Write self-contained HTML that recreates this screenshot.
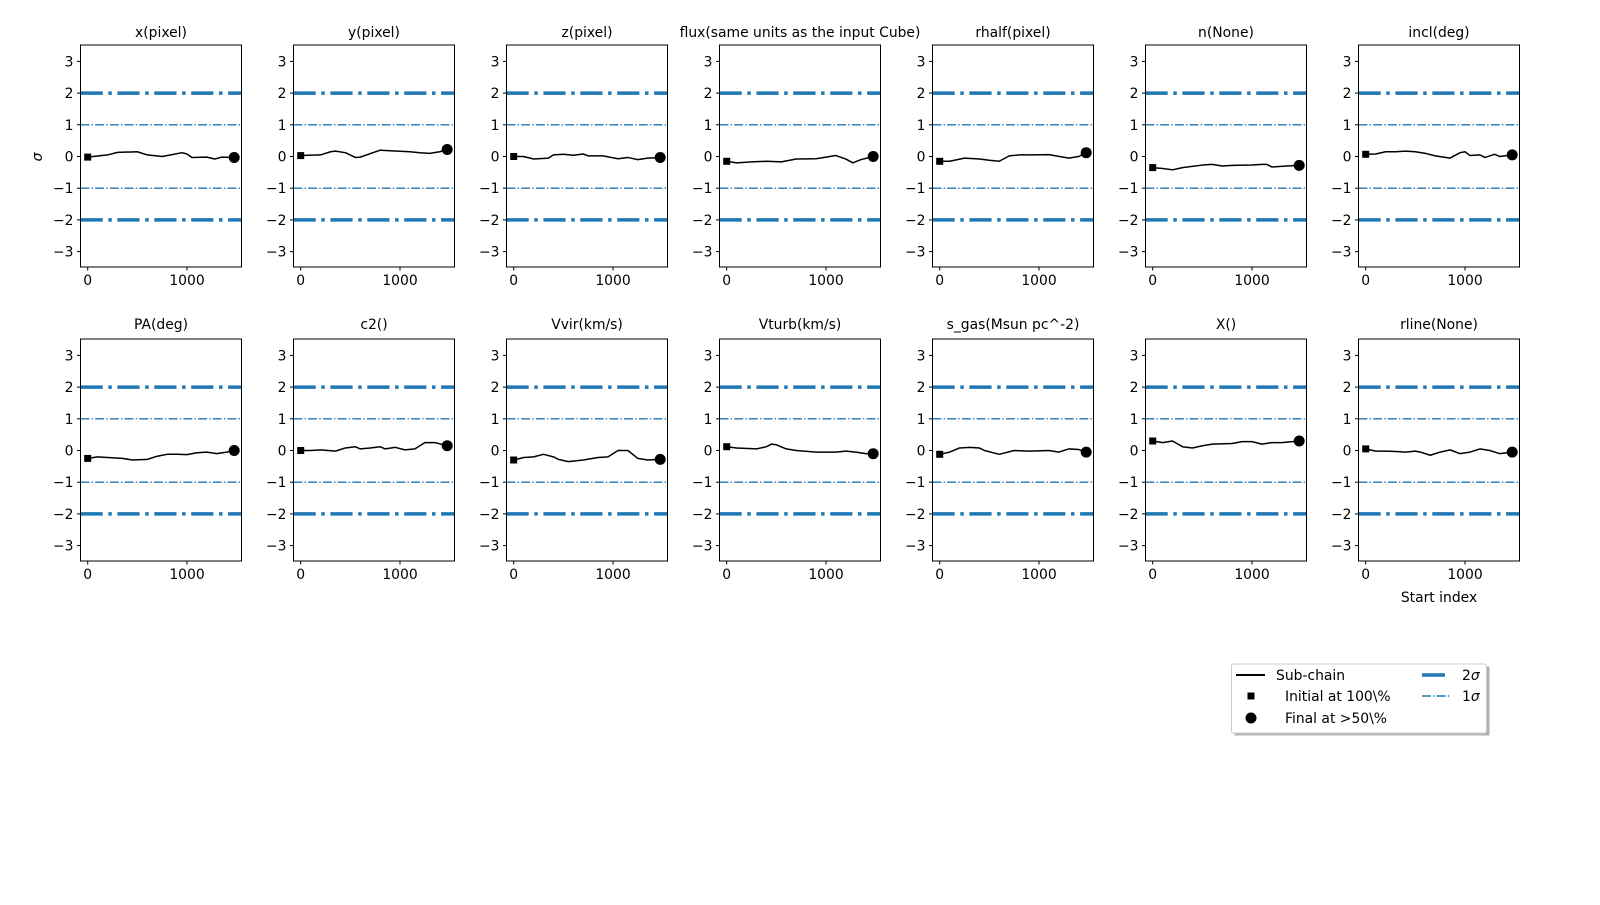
<!DOCTYPE html>
<html><head><meta charset="utf-8"><style>
body{margin:0;background:#fff}
svg{font-family:"DejaVu Sans","Liberation Sans",sans-serif;font-size:13.9px}
.t2{stroke:#1f77b4;stroke-width:3.5;stroke-dasharray:22.2 5.6 3.5 5.6}
.t1{stroke:#1f77b4;stroke-width:1.4;stroke-dasharray:8.9 2.2 1.4 2.2}
.d{fill:none;stroke:#000;stroke-width:1.5;vector-effect:non-scaling-stroke;stroke-linejoin:round}
.f{fill:none;stroke:#000;stroke-width:1}
.tk{stroke:#000;stroke-width:1}
.yl{text-anchor:end}
.xl{text-anchor:middle}
</style></head><body>
<svg width="1600" height="900" viewBox="0 0 1600 900">
<defs>
<g id="base">
<line class="t2" x1="0" x2="161" y1="48.1" y2="48.1"/>
<line class="t2" x1="0" x2="161" y1="174.9" y2="174.9"/>
<line class="t1" x1="0" x2="161" y1="79.8" y2="79.8"/>
<line class="t1" x1="0" x2="161" y1="143.2" y2="143.2"/>
<rect class="f" x="0" y="0" width="161" height="222"/>
<g class="tk">
<line x1="-3.5" x2="0" y1="16.4" y2="16.4"/><line x1="-3.5" x2="0" y1="48.1" y2="48.1"/><line x1="-3.5" x2="0" y1="79.8" y2="79.8"/><line x1="-3.5" x2="0" y1="111.5" y2="111.5"/><line x1="-3.5" x2="0" y1="143.2" y2="143.2"/><line x1="-3.5" x2="0" y1="174.9" y2="174.9"/><line x1="-3.5" x2="0" y1="206.6" y2="206.6"/>
<line x1="7.2" x2="7.2" y1="222" y2="225.5"/><line x1="106.5" x2="106.5" y1="222" y2="225.5"/>
</g>
<g class="yl">
<text x="-7" y="21.4">3</text><text x="-7" y="53.1">2</text><text x="-7" y="84.8">1</text><text x="-7" y="116.5">0</text><text x="-7" y="148.2">−1</text><text x="-7" y="179.9">−2</text><text x="-7" y="211.6">−3</text>
</g>
<g class="xl"><text x="7.2" y="240">0</text><text x="106.5" y="240">1000</text></g>
</g>
</defs>

<!-- Row 1 -->
<g transform="translate(80.5,45)"><use href="#base"/><text class="xl" x="80.5" y="-8">x(pixel)</text>
<polyline class="d" transform="translate(7.2,111.5) scale(0.0993,-31.7)" points="0,-0.02 200,0.05 300,0.13 500,0.15 600,0.05 750,0 850,0.06 950,0.12 1000,0.08 1050,-0.03 1200,-0.02 1280,-0.08 1350,-0.02 1475,-0.03"/>
<rect x="3.7" y="108.6" width="7" height="7"/><circle cx="153.7" cy="112.5" r="5.5"/></g>

<g transform="translate(293.5,45)"><use href="#base"/><text class="xl" x="80.5" y="-8">y(pixel)</text>
<polyline class="d" transform="translate(7.2,111.5) scale(0.0993,-31.7)" points="0,0.03 200,0.05 300,0.15 350,0.17 450,0.12 550,-0.03 600,-0.02 800,0.2 900,0.18 1100,0.15 1200,0.12 1300,0.1 1400,0.15 1475,0.22"/>
<rect x="3.7" y="107.1" width="7" height="7"/><circle cx="153.7" cy="104.5" r="5.5"/></g>

<g transform="translate(506.5,45)"><use href="#base"/><text class="xl" x="80.5" y="-8">z(pixel)</text>
<polyline class="d" transform="translate(7.2,111.5) scale(0.0993,-31.7)" points="0,0 100,0 200,-0.08 350,-0.05 400,0.05 500,0.07 600,0.04 700,0.08 750,0.02 900,0.02 1050,-0.07 1150,-0.03 1250,-0.1 1350,-0.05 1475,-0.03"/>
<rect x="3.7" y="108" width="7" height="7"/><circle cx="153.7" cy="112.5" r="5.5"/></g>

<g transform="translate(719.5,45)"><use href="#base"/><text class="xl" x="80.5" y="-8">flux(same units as the input Cube)</text>
<polyline class="d" transform="translate(7.2,111.5) scale(0.0993,-31.7)" points="0,-0.15 100,-0.2 250,-0.17 400,-0.15 550,-0.17 700,-0.08 900,-0.07 1100,0.03 1200,-0.08 1270,-0.2 1350,-0.1 1475,0"/>
<rect x="3.7" y="112.8" width="7" height="7"/><circle cx="153.7" cy="111.5" r="5.5"/></g>

<g transform="translate(932.5,45)"><use href="#base"/><text class="xl" x="80.5" y="-8">rhalf(pixel)</text>
<polyline class="d" transform="translate(7.2,111.5) scale(0.0993,-31.7)" points="0,-0.15 100,-0.15 250,-0.05 400,-0.08 500,-0.12 600,-0.15 700,0.02 800,0.05 950,0.05 1100,0.06 1300,-0.05 1400,0 1475,0.12"/>
<rect x="3.7" y="112.8" width="7" height="7"/><circle cx="153.7" cy="107.7" r="5.5"/></g>

<g transform="translate(1145.5,45)"><use href="#base"/><text class="xl" x="80.5" y="-8">n(None)</text>
<polyline class="d" transform="translate(7.2,111.5) scale(0.0993,-31.7)" points="0,-0.35 100,-0.38 200,-0.42 300,-0.35 500,-0.27 600,-0.25 700,-0.3 800,-0.28 1000,-0.27 1100,-0.25 1150,-0.25 1200,-0.33 1350,-0.3 1475,-0.28"/>
<rect x="3.7" y="119.1" width="7" height="7"/><circle cx="153.7" cy="120.4" r="5.5"/></g>

<g transform="translate(1358.5,45)"><use href="#base"/><text class="xl" x="80.5" y="-8">incl(deg)</text>
<polyline class="d" transform="translate(7.2,111.5) scale(0.0993,-31.7)" points="0,0.07 100,0.08 200,0.15 300,0.15 400,0.17 500,0.15 600,0.1 700,0.02 850,-0.05 950,0.12 1000,0.15 1050,0.03 1150,0.05 1200,-0.03 1300,0.07 1350,0 1475,0.05"/>
<rect x="3.7" y="105.8" width="7" height="7"/><circle cx="153.7" cy="109.9" r="5.5"/></g>

<!-- Row 2 -->
<g transform="translate(80.5,339)"><use href="#base"/><text class="xl" x="80.5" y="-10">PA(deg)</text>
<polyline class="d" transform="translate(7.2,111.5) scale(0.0993,-31.7)" points="0,-0.25 100,-0.2 200,-0.22 350,-0.25 450,-0.3 600,-0.28 700,-0.18 800,-0.12 900,-0.12 1000,-0.13 1100,-0.07 1200,-0.05 1300,-0.1 1400,-0.05 1475,0"/>
<rect x="3.7" y="115.9" width="7" height="7"/><circle cx="153.7" cy="111.5" r="5.5"/></g>

<g transform="translate(293.5,339)"><use href="#base"/><text class="xl" x="80.5" y="-10">c2()</text>
<polyline class="d" transform="translate(7.2,111.5) scale(0.0993,-31.7)" points="0,0 100,0 200,0.02 350,-0.02 450,0.08 550,0.12 600,0.05 700,0.08 800,0.12 850,0.05 950,0.1 1050,0.02 1150,0.05 1250,0.25 1350,0.25 1475,0.15"/>
<rect x="3.7" y="108" width="7" height="7"/><circle cx="153.7" cy="106.7" r="5.5"/></g>

<g transform="translate(506.5,339)"><use href="#base"/><text class="xl" x="80.5" y="-10">Vvir(km/s)</text>
<polyline class="d" transform="translate(7.2,111.5) scale(0.0993,-31.7)" points="0,-0.3 100,-0.22 200,-0.2 300,-0.12 400,-0.2 450,-0.28 550,-0.35 700,-0.3 850,-0.22 950,-0.2 1050,0 1150,0 1250,-0.25 1350,-0.3 1475,-0.28"/>
<rect x="3.7" y="117.5" width="7" height="7"/><circle cx="153.7" cy="120.4" r="5.5"/></g>

<g transform="translate(719.5,339)"><use href="#base"/><text class="xl" x="80.5" y="-10">Vturb(km/s)</text>
<polyline class="d" transform="translate(7.2,111.5) scale(0.0993,-31.7)" points="0,0.12 100,0.08 300,0.05 400,0.12 450,0.2 500,0.18 600,0.05 700,0 900,-0.05 1100,-0.05 1200,-0.02 1300,-0.05 1400,-0.1 1475,-0.1"/>
<rect x="3.7" y="104.2" width="7" height="7"/><circle cx="153.7" cy="114.7" r="5.5"/></g>

<g transform="translate(932.5,339)"><use href="#base"/><text class="xl" x="80.5" y="-10">s_gas(Msun pc^-2)</text>
<polyline class="d" transform="translate(7.2,111.5) scale(0.0993,-31.7)" points="0,-0.12 100,-0.05 200,0.08 300,0.1 400,0.08 450,0 600,-0.12 750,0 900,-0.02 1100,0 1200,-0.05 1300,0.05 1400,0.03 1475,-0.05"/>
<rect x="3.7" y="111.8" width="7" height="7"/><circle cx="153.7" cy="113.1" r="5.5"/></g>

<g transform="translate(1145.5,339)"><use href="#base"/><text class="xl" x="80.5" y="-10">X()</text>
<polyline class="d" transform="translate(7.2,111.5) scale(0.0993,-31.7)" points="0,0.3 100,0.25 200,0.3 300,0.12 400,0.08 500,0.15 600,0.2 800,0.22 900,0.28 1000,0.28 1100,0.2 1200,0.25 1300,0.25 1475,0.3"/>
<rect x="3.7" y="98.5" width="7" height="7"/><circle cx="153.7" cy="102" r="5.5"/></g>

<g transform="translate(1358.5,339)"><use href="#base"/><text class="xl" x="80.5" y="-10">rline(None)</text>
<polyline class="d" transform="translate(7.2,111.5) scale(0.0993,-31.7)" points="0,0.05 100,-0.02 200,-0.02 300,-0.03 400,-0.05 500,-0.02 550,-0.05 650,-0.15 750,-0.05 850,0.02 950,-0.1 1050,-0.05 1150,0.05 1250,0 1350,-0.1 1475,-0.05"/>
<rect x="3.7" y="106.4" width="7" height="7"/><circle cx="153.7" cy="113.1" r="5.5"/></g>

<text class="xl" x="1439" y="602">Start index</text>
<text transform="translate(42,157) rotate(-90)" class="xl" font-style="italic">σ</text>

<!-- Legend -->
<rect x="1234.5" y="666.5" width="255" height="69" fill="#000" opacity="0.3"/>
<rect x="1231.5" y="664" width="255" height="69" rx="2" fill="#fff" stroke="#ccc"/>
<line x1="1236" x2="1265" y1="675" y2="675" stroke="#000" stroke-width="2"/>
<text x="1276" y="680">Sub-chain</text>
<rect x="1247.5" y="692.5" width="7" height="7"/>
<text x="1285" y="701">Initial at 100\%</text>
<circle cx="1251" cy="718" r="5.5"/>
<text x="1285" y="723">Final at &gt;50\%</text>
<line x1="1422" x2="1445" y1="675" y2="675" stroke="#1f77b4" stroke-width="3.5"/>
<text x="1462" y="680">2<tspan font-style="italic">σ</tspan></text>
<line class="t1" x1="1422" x2="1450" y1="696" y2="696"/>
<text x="1462" y="701">1<tspan font-style="italic">σ</tspan></text>
</svg>
</body></html>
